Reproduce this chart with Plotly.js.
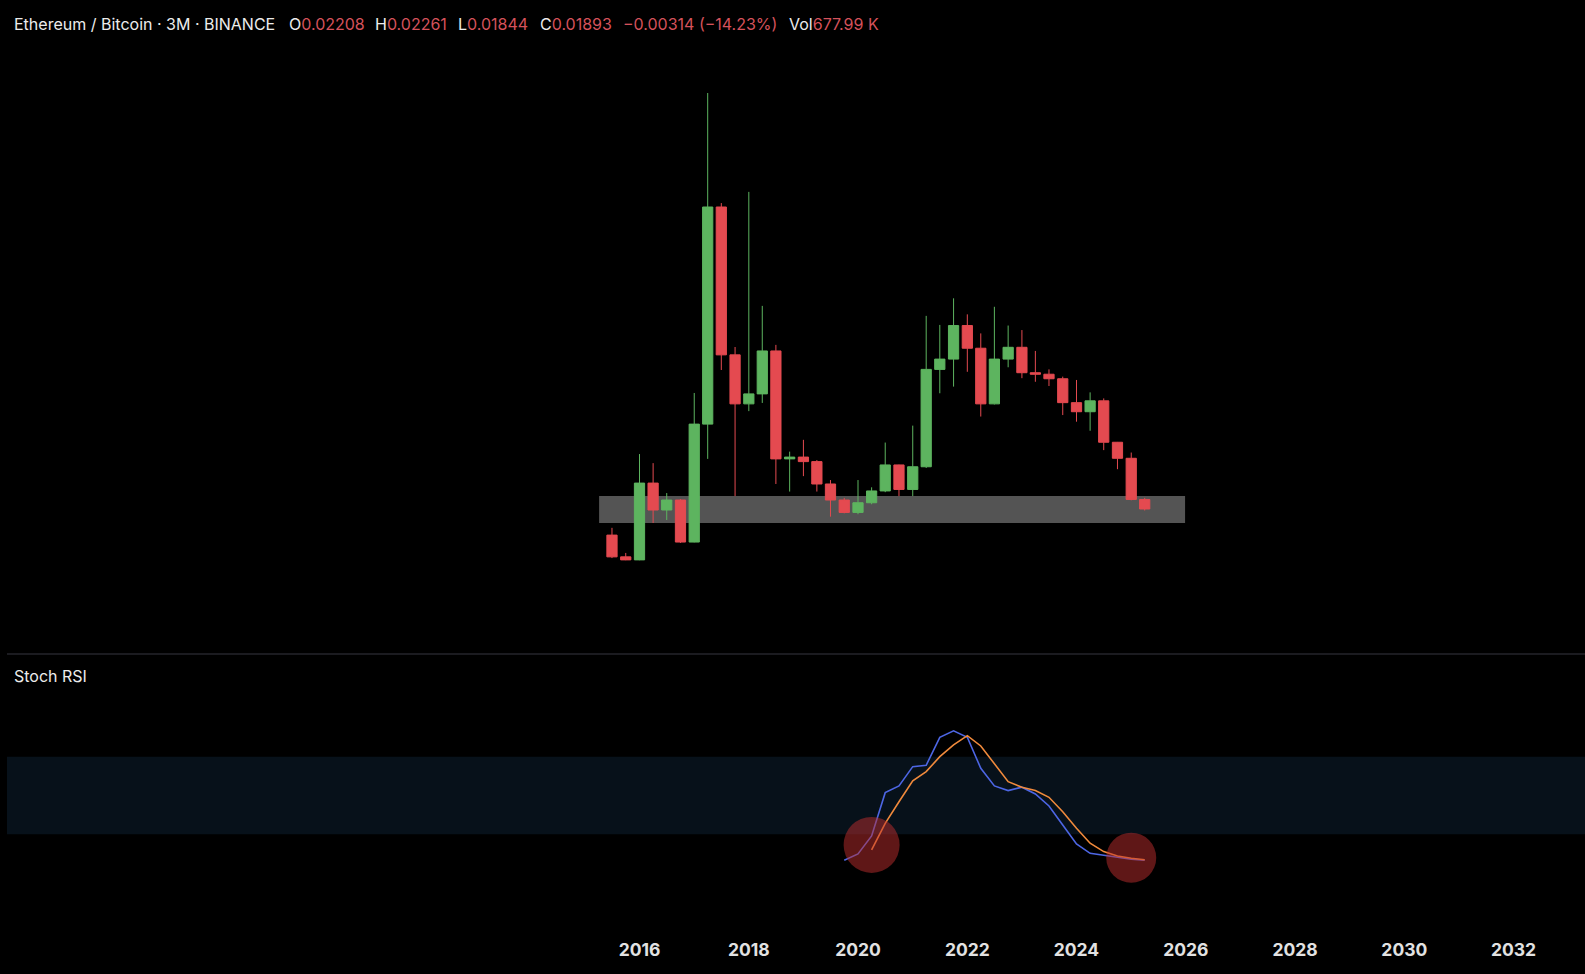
<!DOCTYPE html>
<html>
<head>
<meta charset="utf-8">
<script src="https://cdn.plot.ly/plotly-3.0.1.min.js"></script>
<style>
  html, body { margin: 0; padding: 0; background: #000; }
  #chart { width: 1585px; height: 974px; }
</style>
</head>
<body>
<div id="chart"></div>
<script>
// ---------- DATA ----------
const quarters = [
  '2015-07-01','2015-10-01','2016-01-01','2016-04-01','2016-07-01','2016-10-01',
  '2017-01-01','2017-04-01','2017-07-01','2017-10-01','2018-01-01','2018-04-01',
  '2018-07-01','2018-10-01','2019-01-01','2019-04-01','2019-07-01','2019-10-01',
  '2020-01-01','2020-04-01','2020-07-01','2020-10-01','2021-01-01','2021-04-01',
  '2021-07-01','2021-10-01','2022-01-01','2022-04-01','2022-07-01','2022-10-01',
  '2023-01-01','2023-04-01','2023-07-01','2023-10-01','2024-01-01','2024-04-01',
  '2024-07-01','2024-10-01','2025-01-01','2025-04-01'
];
const openPrices = [
  0.0103, 0.0031, 0.0021, 0.0275, 0.0186, 0.0219,
  0.0080, 0.0470, 0.1188, 0.0699, 0.0537, 0.0570,
  0.0712, 0.0355, 0.0361, 0.0346, 0.0272, 0.0219,
  0.0178, 0.0210, 0.0249, 0.0335, 0.0254, 0.0329,
  0.0651, 0.0685, 0.0796, 0.0721, 0.0537, 0.0685,
  0.0724, 0.0640, 0.0635, 0.0620, 0.0541, 0.0511,
  0.0547, 0.0410, 0.0357, 0.02208
];
const highPrices = [
  0.0127, 0.0044, 0.0371, 0.0341, 0.0242, 0.0222,
  0.0573, 0.1565, 0.1201, 0.0725, 0.1238, 0.0861,
  0.0732, 0.0379, 0.0418, 0.0351, 0.0285, 0.0226,
  0.0285, 0.0261, 0.0409, 0.0336, 0.0465, 0.0828,
  0.0798, 0.0886, 0.0833, 0.0770, 0.0858, 0.0796,
  0.0781, 0.0712, 0.0651, 0.0627, 0.0616, 0.0575,
  0.0555, 0.0411, 0.0376, 0.02261
];
const lowPrices = [
  0.0027, 0.0020, 0.0020, 0.0143, 0.0153, 0.0077,
  0.0079, 0.0355, 0.0649, 0.0232, 0.0513, 0.0540,
  0.0272, 0.0247, 0.0298, 0.0247, 0.0164, 0.0175,
  0.0172, 0.0205, 0.0245, 0.0232, 0.0232, 0.0325,
  0.0572, 0.0594, 0.0643, 0.0495, 0.0535, 0.0658,
  0.0622, 0.0610, 0.0596, 0.0500, 0.0478, 0.0448,
  0.0384, 0.0321, 0.0218, 0.01844
];
const closePrices = [
  0.0031, 0.0021, 0.0275, 0.0186, 0.0219, 0.0080,
  0.0470, 0.1188, 0.0699, 0.0537, 0.0570, 0.0712,
  0.0355, 0.0361, 0.0346, 0.0272, 0.0219, 0.0178,
  0.0210, 0.0249, 0.0335, 0.0254, 0.0329, 0.0651,
  0.0685, 0.0796, 0.0721, 0.0537, 0.0685, 0.0724,
  0.0640, 0.0635, 0.0620, 0.0541, 0.0511, 0.0547,
  0.0410, 0.0357, 0.0221, 0.01893
];

// Stoch RSI %K (blue) from 2019 Q4, %D (orange) from 2020 Q2
const stochKStart = '2019-10-01';
const stochK = [0, 4.8, 18.7, 52.2, 57.4, 72.3, 73.4, 95, 100, 95, 71, 57.4,
                53.8, 56.4, 51.2, 41.9, 27.2, 12.5, 5.3, 3.8, 2.7, 0.7, 0];
const stochDStart = '2020-04-01';
const stochD = [7.9, 28.5, 45.2, 61.3, 68.5, 80, 89.1, 96.3, 88.3, 74.4, 60.7,
                56.4, 53.8, 48.6, 37.5, 24.7, 13.1, 6.6, 3.2, 1.5, 0.3];
const stochBand = [20, 80];

// Support zone (grey box)
const zoneStart = '2015-04-06', zoneEnd = '2025-12-27';
const zoneLow = 0.0143, zoneHigh = 0.0232;

// Highlight circles on the Stoch RSI pane
const circleDates = ['2020-04-01', '2025-01-01'];
const circleValues = [11.8, 1.9];

// Axis ticks
const tickYears = ['2016','2018','2020','2022','2024','2026','2028','2030','2032'];

// Header texts
const symbolTitle = 'Ethereum / Bitcoin · 3M · BINANCE';
const hdrOpen = '0.02208', hdrHigh = '0.02261', hdrLow = '0.01844', hdrClose = '0.01893';
const hdrChange = '−0.00314 (−14.23%)';
const hdrVol = '677.99 K';
const paneTitle = 'Stoch RSI';

// ---------- LAYOUT HELPERS ----------
const W = 1585, H = 974;
const GREEN = '#5db45f', RED = '#e44a50', HRED = '#d5525b', WHITE = '#ececec';

function linRange(pxA, vA, pxB, vB, pxTop, pxBottom) {
  const k = (vB - vA) / (pxB - pxA);
  return [vA + (pxBottom - pxA) * k, vA + (pxTop - pxA) * k];
}
function dom(pxTop, pxBottom) { return [1 - pxBottom / H, 1 - pxTop / H]; }
function fmt(ms) { return new Date(ms).toISOString().replace('T', ' ').replace('Z', ''); }

// x calibration: 2016 -> px 639.5, 2020 -> px 858
const tA = Date.UTC(2016, 0, 1), tB = Date.UTC(2020, 0, 1);
const msPerPx = (tB - tA) / (858 - 639.5);
const xRange = [fmt(tA - 639.5 * msPerPx), fmt(tA + (W - 639.5) * msPerPx)];

const mainTop = 40, mainBottom = 650;
const stochTop = 660, stochBottom = 925;
const yRange = linRange(93, 0.1565, 509, 0.01893, mainTop, mainBottom);
const y2Range = linRange(756.7, 80, 834.3, 20, stochTop, stochBottom);

const kX = quarters.slice(quarters.indexOf(stochKStart), quarters.indexOf(stochKStart) + stochK.length);
const dX = quarters.slice(quarters.indexOf(stochDStart), quarters.indexOf(stochDStart) + stochD.length);

const traces = [
  {
    type: 'candlestick',
    x: quarters, open: openPrices, high: highPrices, low: lowPrices, close: closePrices,
    xaxis: 'x', yaxis: 'y',
    increasing: { line: { color: GREEN, width: 1 }, fillcolor: GREEN },
    decreasing: { line: { color: RED, width: 1 }, fillcolor: RED },
    whiskerwidth: 0,
    hoverinfo: 'skip', showlegend: false
  },
  {
    type: 'scatter', mode: 'lines', x: kX, y: stochK, xaxis: 'x', yaxis: 'y2',
    line: { color: '#4d66e4', width: 1.6 }, hoverinfo: 'skip', showlegend: false
  },
  {
    type: 'scatter', mode: 'lines', x: dX, y: stochD, xaxis: 'x', yaxis: 'y2',
    line: { color: '#f08a3c', width: 1.6 }, hoverinfo: 'skip', showlegend: false
  }
];

const headerY = 1 - 24 / H;
const headerFont = { family: 'Inter, Roboto, sans-serif', size: 16, color: WHITE };
function red(s) { return '<span style="color:' + HRED + '">' + s + '</span>'; }
const headerItems = [
  [13, symbolTitle],
  [288, 'O' + red(hdrOpen)],
  [374, 'H' + red(hdrHigh)],
  [457, 'L' + red(hdrLow)],
  [539, 'C' + red(hdrClose)],
  [622, red(hdrChange)],
  [788, 'Vol' + red(hdrVol)]
];
const annotations = headerItems.map(([px, txt]) => ({
  xref: 'paper', yref: 'paper', x: px / W, y: headerY,
  xanchor: 'left', yanchor: 'middle', showarrow: false, text: txt,
  font: headerFont, borderpad: 0
}));
annotations.push({
  xref: 'paper', yref: 'paper', x: 13 / W, y: 1 - 676 / H,
  xanchor: 'left', yanchor: 'middle', showarrow: false, text: paneTitle,
  font: { family: 'Inter, Roboto, sans-serif', size: 16, color: WHITE }, borderpad: 0
});

const shapes = [
  // support zone
  { type: 'rect', layer: 'below', xref: 'x', yref: 'y',
    x0: zoneStart, x1: zoneEnd, y0: zoneLow, y1: zoneHigh,
    fillcolor: '#545454', line: { width: 0 } },
  // stoch 20-80 band
  { type: 'rect', layer: 'below', xref: 'paper', yref: 'y2',
    x0: 7 / W, x1: 1, y0: stochBand[0], y1: stochBand[1],
    fillcolor: '#07111a', line: { width: 0 } },
  // pane divider
  { type: 'line', xref: 'paper', yref: 'paper',
    x0: 7 / W, x1: 1, y0: 1 - 654 / H, y1: 1 - 654 / H,
    line: { color: '#363640', width: 1 } }
];
const circleR = [28, 25];
circleDates.forEach((d, i) => {
  shapes.push({
    type: 'circle', layer: 'above', xref: 'x', yref: 'y2',
    xsizemode: 'pixel', ysizemode: 'pixel',
    xanchor: d, yanchor: circleValues[i],
    x0: -circleR[i], x1: circleR[i], y0: -circleR[i], y1: circleR[i],
    fillcolor: 'rgba(190,45,45,0.5)', line: { width: 0 }
  });
});

const layout = {
  width: W, height: H,
  margin: { l: 0, r: 0, t: 0, b: 0, pad: 0 },
  paper_bgcolor: '#000', plot_bgcolor: '#000',
  showlegend: false,
  boxgap: 0.24, boxgroupgap: 0,
  xaxis: {
    type: 'date', range: xRange, domain: [0, 1],
    anchor: 'free', position: 1 - 937 / H,
    rangeslider: { visible: false },
    showgrid: false, zeroline: false, showline: false, ticks: '',
    tickmode: 'array',
    tickvals: tickYears.map(y => y + '-01-01'),
    ticktext: tickYears,
    tickfont: { family: 'Inter, Roboto, sans-serif', size: 17.5, color: '#e2e2e2', weight: 700 },
    fixedrange: true
  },
  yaxis: {
    domain: dom(mainTop, mainBottom), range: yRange,
    visible: false, showgrid: false, zeroline: false, fixedrange: true
  },
  yaxis2: {
    domain: dom(stochTop, stochBottom), range: y2Range,
    visible: false, showgrid: false, zeroline: false, fixedrange: true
  },
  annotations: annotations,
  shapes: shapes
};

Plotly.newPlot('chart', traces, layout, { staticPlot: true, displayModeBar: false });
</script>
</body>
</html>
